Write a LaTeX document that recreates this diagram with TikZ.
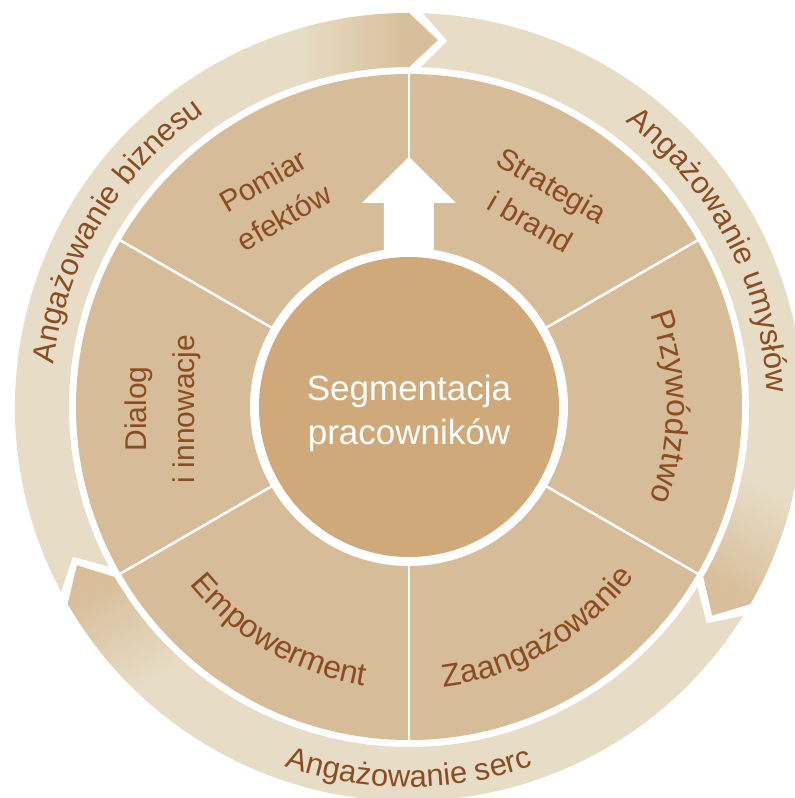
\documentclass[tikz,border=0pt]{standalone}
\usepackage{fontspec}
\setmainfont{Liberation Sans}
\usetikzlibrary{decorations.text}

\definecolor{ringcream}{HTML}{E7DDC6}
\definecolor{headtan}{HTML}{D8BE9A}
\definecolor{segtan}{HTML}{D6BC98}
\definecolor{coretan}{HTML}{CFA979}
\definecolor{labelbrown}{HTML}{8B4C22}

\newcommand\labelfont{\fontsize{30}{42}\selectfont}
\newcommand\dialogfont{\fontsize{30}{48}\selectfont}
\newcommand\corefont{\fontsize{35}{44}\selectfont}
\newcommand\arctextfont{\fontsize{31}{36}\selectfont\color{labelbrown}}
\newcommand\sectorarcfont{\fontsize{32}{36}\selectfont\color{labelbrown}}

% outline of one ring arrow: #1 = tail angle, #2 = head angle (clockwise)
\newcommand\ringarrowpath[2]{(#1:394) arc[start angle=#1,end angle=#2,radius=394]
  -- ({#2-4.5}:368) -- (#2:340) arc[start angle=#2,end angle=#1,radius=340]
  -- ({#1-4}:368) -- cycle}

% a ring arrow, cream body fading into tan towards its head
\newcommand\ringarrow[2]{%
  \fill[ringcream] \ringarrowpath{#1}{#2};
  \begin{scope}
    \clip \ringarrowpath{#1}{#2};
    \begin{scope}[transform canvas={shift={(#2:368)},rotate=#2-90}]
      \shade[left color=ringcream,right color=headtan] (-110,-90) rectangle (0,90);
      \fill[headtan] (-0.5,-90) rectangle (60,90);
    \end{scope}
  \end{scope}}

\begin{document}
\begin{tikzpicture}[x=1pt,y=1pt,
  sector label/.style={text=labelbrown,font=\labelfont,align=center,inner sep=0pt},
  core label/.style={text=white,font=\corefont,align=center,inner sep=0pt},
  divider/.style={white,line width=2.5pt},
  arc label/.style={decorate,decoration={text along path,text align=center,
      text={|\arctextfont|#1}}},
  sector arc label/.style={decorate,decoration={text along path,text align=center,
      text={|\sectorarcfont|#1}}}]

\useasboundingbox (-409,-391) rectangle (386,407);
\clip (-409,-391) rectangle (386,407);

% outer ring of three arrows
\ringarrow{208}{90}
\ringarrow{88}{-30}
\ringarrow{-32}{-150}

% sector disk with white dividers
\fill[segtan] (0,0) circle[radius=333];
\foreach \a in {30,90,...,330}
  \draw[divider] (0,0) -- (\a:333);

% core circle with its white rim
\fill[white] (0,0) circle[radius=159];
\fill[coretan] (0,0) circle[radius=150];

% white arrow rising from the core
\fill[white] (-25,155) -- (-25,204) -- (-47,204) -- (0,250) -- (47,204)
  -- (25,204) -- (25,155) -- cycle;

% core text
\node[core label] (core) at (0,-6) {Segmentacja\\pracowników};

% sector labels
\node[sector label,rotate=30] (pomiar) at (-135.5,208) {Pomiar\\efektów};
\node[sector label,rotate=-30] (strategia) at (132.5,203.5) {Strategia\\i brand};
\node[sector label,rotate=90,font=\dialogfont] (dialog) at (-246,-2) {Dialog\\i innowacje};
\path[sector arc label=Przywództwo] (40:258) arc[start angle=40,end angle=-40,radius=258];
\path[sector arc label=Empowerment] (195:282) arc[start angle=195,end angle=285,radius=282];
\path[sector arc label=Zaangażowanie] (-105:282) arc[start angle=-105,end angle=-15,radius=282];

% ring labels
\path[arc label=Angażowanie biznesu] (189:358) arc[start angle=189,end angle=109,radius=358];
\path[arc label=Angażowanie umysłów] (68:358) arc[start angle=68,end angle=-13,radius=358];
\path[arc label=Angażowanie serc] (225:380) arc[start angle=225,end angle=315,radius=380];

\end{tikzpicture}
\end{document}
